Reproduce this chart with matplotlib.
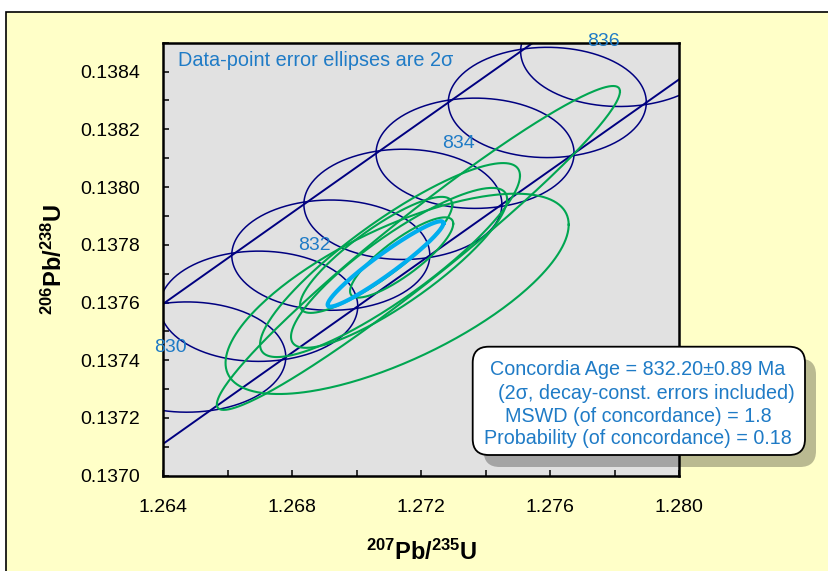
import numpy as np
import matplotlib.pyplot as plt
from matplotlib.patches import Rectangle, FancyBboxPatch
from matplotlib.ticker import MultipleLocator, FormatStrFormatter
from matplotlib.transforms import IdentityTransform

plt.rcParams['font.family'] = 'Liberation Sans'
plt.rcParams['mathtext.fontset'] = 'custom'
plt.rcParams['mathtext.rm'] = 'Liberation Sans'
plt.rcParams['mathtext.bf'] = 'Liberation Sans:bold'

# concordia age markers with decay-constant error ellipses
ages = [830, 831, 832, 833, 834, 835, 836]
age_x = [1.264728, 1.266959, 1.269193, 1.271429, 1.273667, 1.275907, 1.278150]
age_y = [0.137411, 0.137587, 0.137764, 0.137940, 0.138117, 0.138293, 0.138470]
age_sx = 0.00307
age_sy = 0.000191
labelled = [830, 832, 834, 836]

# edges of the concordia band
band_up_x = [1.25498, 1.25943, 1.26389, 1.26836, 1.27284, 1.27733, 1.28182]
band_up_y = [0.136883, 0.137235, 0.137587, 0.137940, 0.138293, 0.138647, 0.139001]
band_lo_x = [1.26112, 1.26557, 1.27003, 1.27450, 1.27898, 1.28347]
band_lo_y = [0.136883, 0.137235, 0.137587, 0.137940, 0.138293, 0.138647]

# data points: x, 2s x, y, 2s y, error correlation
pt_x = [1.27191, 1.27125, 1.27103, 1.27131, 1.27060, 1.27139]
pt_sx = [0.00625, 0.00532, 0.00403, 0.00335, 0.00236, 0.00160]
pt_y = [0.137789, 0.137630, 0.137747, 0.137720, 0.137765, 0.137756]
pt_sy = [0.000561, 0.000347, 0.000336, 0.000277, 0.000201, 0.000139]
pt_rho = [0.966, 0.69, 0.87, 0.86, 0.86, 0.84]

# concordia age ellipse
ca_x, ca_sx, ca_y, ca_sy, ca_rho = 1.27089, 0.001795, 0.1377335, 0.000148, 0.954

navy = '#000080'
green = '#00A651'
cyan = '#00AEEF'
txt_blue = '#1F7BC6'


def ellipse(x, sx, y, sy, rho, n=300):
    t = np.linspace(0, 2 * np.pi, n)
    ex = x + sx * np.cos(t)
    ey = y + sy * (rho * np.cos(t) + np.sqrt(1 - rho ** 2) * np.sin(t))
    return ex, ey


fig = plt.figure(figsize=(8.29, 5.71), dpi=100)
fig.patch.set_facecolor('white')
fig.add_artist(Rectangle((6 / 829, -0.1), 1.2, 1.1 - 12 / 571, transform=fig.transFigure,
                         facecolor='#FFFFC8', edgecolor='black', lw=1.2, zorder=0))

ax = fig.add_axes([163.3 / 829, 1 - 475.7 / 571, 516 / 829, 433 / 571])
ax.set_facecolor('#E1E1E1')

ax.plot(band_up_x, band_up_y, color=navy, lw=1.4)
ax.plot(band_lo_x, band_lo_y, color=navy, lw=1.4)
for a, xc, yc in zip(ages, age_x, age_y):
    ex, ey = ellipse(xc, age_sx, yc, age_sy, 0.0)
    ax.plot(ex, ey, color=navy, lw=1.1)
    if a in labelled:
        ax.text(xc, yc + 0.000005, str(a), ha='right', va='bottom', color=txt_blue, fontsize=14)

for x, sx, y, sy, r in zip(pt_x, pt_sx, pt_y, pt_sy, pt_rho):
    ex, ey = ellipse(x, sx, y, sy, r)
    ax.plot(ex, ey, color=green, lw=1.5)

ex, ey = ellipse(ca_x, ca_sx, ca_y, ca_sy, ca_rho)
ax.plot(ex, ey, color=cyan, lw=3)

ax.text(0.028, 0.98, 'Data-point error ellipses are 2σ', transform=ax.transAxes,
        ha='left', va='top', color=txt_blue, fontsize=14.3)

ax.set_xlim(1.264, 1.280)
ax.set_ylim(0.1370, 0.1385)
ax.xaxis.set_major_locator(MultipleLocator(0.004))
ax.xaxis.set_minor_locator(MultipleLocator(0.002))
ax.yaxis.set_major_locator(MultipleLocator(0.0002))
ax.yaxis.set_minor_locator(MultipleLocator(0.0001))
ax.xaxis.set_major_formatter(FormatStrFormatter('%.3f'))
ax.yaxis.set_major_formatter(FormatStrFormatter('%.4f'))
ax.tick_params(which='both', direction='in', length=4.5, width=1.1, labelsize=14)
ax.tick_params(axis='x', pad=17)
ax.tick_params(axis='y', pad=17)
for s in ax.spines.values():
    s.set_linewidth(1.8)

ax.set_xlabel(r'$\mathbf{^{207}Pb/^{235}U}$', fontsize=17, labelpad=17)
ax.set_ylabel(r'$\mathbf{^{206}Pb/^{238}U}$', fontsize=17, labelpad=9)

# stats box with shadow (pixel coordinates)
H = 571
bx0, bx1, by_top, by_bot = 472.7, 805, 346.7, 455
shadow = FancyBboxPatch((bx0 + 11, H - by_bot - 12), bx1 - bx0, by_bot - by_top,
                        boxstyle='round,pad=0,rounding_size=16', transform=IdentityTransform(),
                        facecolor='black', alpha=0.27, edgecolor='none', zorder=5)
box = FancyBboxPatch((bx0, H - by_bot), bx1 - bx0, by_bot - by_top,
                     boxstyle='round,pad=0,rounding_size=16', transform=IdentityTransform(),
                     facecolor='white', edgecolor='black', lw=1.3, zorder=6)
fig.add_artist(shadow)
fig.add_artist(box)

lines = ['Concordia Age = 832.20±0.89 Ma',
         '(2σ, decay-const. errors included)',
         'MSWD (of concordance) = 1.8',
         'Probability (of concordance) = 0.18']
line_x = [638, 646, 638, 638]
line_y = [369.3, 393.3, 416.7, 438.3]
for s, lx, ly in zip(lines, line_x, line_y):
    fig.text(lx / 829, 1 - ly / H, s, ha='center', va='center', color=txt_blue,
             fontsize=14.2, zorder=7)

fig.savefig('out.png', dpi=100)
